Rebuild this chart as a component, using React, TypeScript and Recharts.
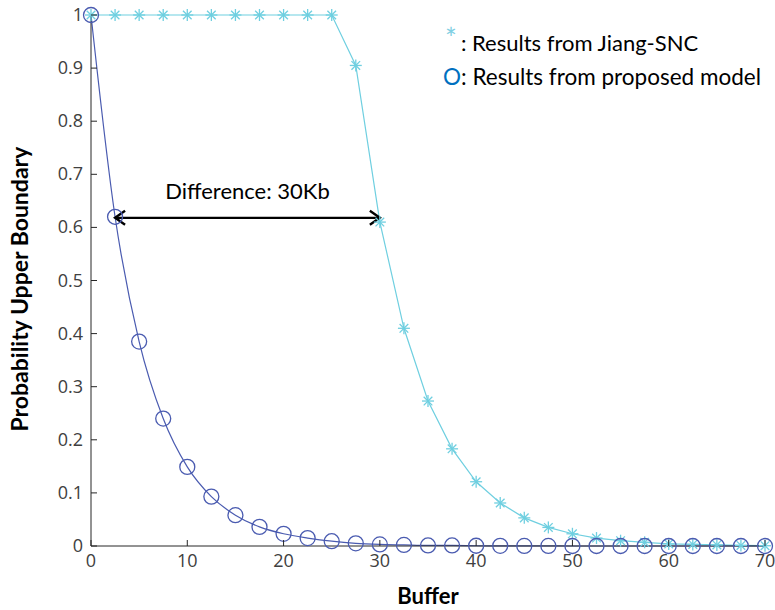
import { LineChart, Line, XAxis, YAxis, ReferenceLine } from 'recharts'

const buffer = [0, 2.5, 5, 7.5, 10, 12.5, 15, 17.5, 20, 22.5, 25, 27.5, 30, 32.5, 35, 37.5, 40, 42.5, 45, 47.5, 50, 52.5, 55, 57.5, 60, 62.5, 65, 67.5, 70]
const jiangSNC = [1, 1, 1, 1, 1, 1, 1, 1, 1, 1, 1, 0.905, 0.61, 0.41, 0.273, 0.183, 0.121, 0.081, 0.053, 0.035, 0.023, 0.015, 0.01, 0.007, 0.004, 0.003, 0.002, 0.001, 0.0005]
const proposed = [1, 0.62, 0.385, 0.24, 0.149, 0.093, 0.058, 0.036, 0.023, 0.015, 0.009, 0.005, 0.003, 0.002, 0.001, 0.001, 0.0005, 0.0003, 0.0002, 0.0001, 0, 0, 0, 0, 0, 0, 0, 0, 0]
const xTicks = [0, 10, 20, 30, 40, 50, 60, 70]
const yTicks = [0, 0.1, 0.2, 0.3, 0.4, 0.5, 0.6, 0.7, 0.8, 0.9, 1]
const diffStart = 2.5
const diffEnd = 30
const diffLevel = 0.618

const data = buffer.map((b, i) => ({ buffer: b, jiang: jiangSNC[i], proposed: proposed[i] }))

const JIANG = '#6fcfe0'
const PROPOSED = '#4a5bb0'
const AXIS = '#262626'
const tickFont = '"Open Sans", sans-serif'
const textFont = 'Lato, "Open Sans", sans-serif'

const Star = (props: any) => {
  const { cx, cy } = props
  if (cx == null || cy == null) return null
  const r = 6
  const d = r * 0.72
  return (
    <g stroke={JIANG} strokeWidth={1.3}>
      <line x1={cx - r} y1={cy} x2={cx + r} y2={cy} />
      <line x1={cx} y1={cy - r} x2={cx} y2={cy + r} />
      <line x1={cx - d} y1={cy - d} x2={cx + d} y2={cy + d} />
      <line x1={cx - d} y1={cy + d} x2={cx + d} y2={cy - d} />
    </g>
  )
}

const Ring = (props: any) => {
  const { cx, cy } = props
  if (cx == null || cy == null) return null
  return <circle cx={cx} cy={cy} r={7.5} fill="none" stroke={PROPOSED} strokeWidth={1.3} />
}

const YTick = (props: any) => {
  const { x, y, payload } = props
  return (
    <g>
      <line x1={x + 8} y1={y} x2={x + 14} y2={y} stroke={AXIS} strokeWidth={1} />
      <text x={x} y={y} dy={6} textAnchor="end" fill="#404040" fontSize={18} fontFamily={tickFont}>
        {payload.value}
      </text>
    </g>
  )
}

const XTick = (props: any) => {
  const { x, y, payload } = props
  return (
    <g>
      <line x1={x} y1={y - 8} x2={x} y2={y - 14} stroke={AXIS} strokeWidth={1} />
      <text x={x} y={y} dy={13} textAnchor="middle" fill="#404040" fontSize={18} fontFamily={tickFont}>
        {payload.value}
      </text>
    </g>
  )
}

const DoubleArrow = (props: any) => {
  const { x1, y1, x2, y2 } = props
  const h = 10
  return (
    <g stroke="#000" strokeWidth={2.4} fill="none">
      <line x1={x1} y1={y1} x2={x2} y2={y2} />
      <polyline points={`${x1 + h},${y1 - h * 0.7} ${x1},${y1} ${x1 + h},${y1 + h * 0.7}`} />
      <polyline points={`${x2 - h},${y2 - h * 0.7} ${x2},${y2} ${x2 - h},${y2 + h * 0.7}`} />
      <text
        x={(x1 + x2) / 2}
        y={y1 - 19}
        textAnchor="middle"
        fill="#000"
        stroke="none"
        fontSize={22}
        fontFamily={textFont}
      >
        Difference: 30Kb
      </text>
    </g>
  )
}

export default function App() {
  return (
    <div style={{ position: 'absolute', left: 0, top: 0, width: 775, height: 610, overflow: 'hidden', background: '#fff' }}>
      <LineChart width={800} height={610} data={data} margin={{ top: 15, right: 35, bottom: 0, left: 0 }}>
        <XAxis
          dataKey="buffer"
          type="number"
          domain={[0, 70]}
          ticks={xTicks}
          tick={<XTick />}
          tickLine={false}
          tickSize={0}
          tickMargin={8}
          stroke={AXIS}
          height={64}
          label={{ value: 'Buffer', position: 'insideBottom', offset: 6, fill: '#000', fontSize: 22, fontWeight: 'bold', fontFamily: textFont }}
        />
        <YAxis
          type="number"
          domain={[0, 1]}
          ticks={yTicks}
          tick={<YTick />}
          tickLine={false}
          tickSize={0}
          tickMargin={8}
          stroke={AXIS}
          width={91}
          label={{ value: 'Probability Upper Boundary', angle: -90, position: 'insideLeft', offset: 20, dy: 151, fill: '#000', fontSize: 23, fontWeight: 'bold', fontFamily: textFont }}
        />
        <Line
          type="linear"
          dataKey="jiang"
          stroke={JIANG}
          strokeWidth={1.2}
          dot={<Star />}
          isAnimationActive={false}
        />
        <Line
          type="monotone"
          dataKey="proposed"
          stroke={PROPOSED}
          strokeWidth={1.2}
          dot={<Ring />}
          isAnimationActive={false}
        />
        <ReferenceLine
          segment={[{ x: diffStart, y: diffLevel }, { x: diffEnd, y: diffLevel }]}
          stroke="#000"
          shape={<DoubleArrow />}
          ifOverflow="visible"
        />
      </LineChart>
      <div style={{ position: 'absolute', left: 445, top: 27, fontFamily: textFont, fontSize: 22, color: '#000', lineHeight: '26px', whiteSpace: 'nowrap' }}>
        <span style={{ color: '#7fcfe3', fontSize: 28, position: 'relative', top: -2, marginRight: 4 }}>*</span>: Results from Jiang-SNC
      </div>
      <div style={{ position: 'absolute', left: 443, top: 64, fontFamily: textFont, fontSize: 22.5, color: '#000', lineHeight: '26px', whiteSpace: 'nowrap' }}>
        <span style={{ color: '#0070c0' }}>O</span>: Results from proposed model
      </div>
    </div>
  )
}
